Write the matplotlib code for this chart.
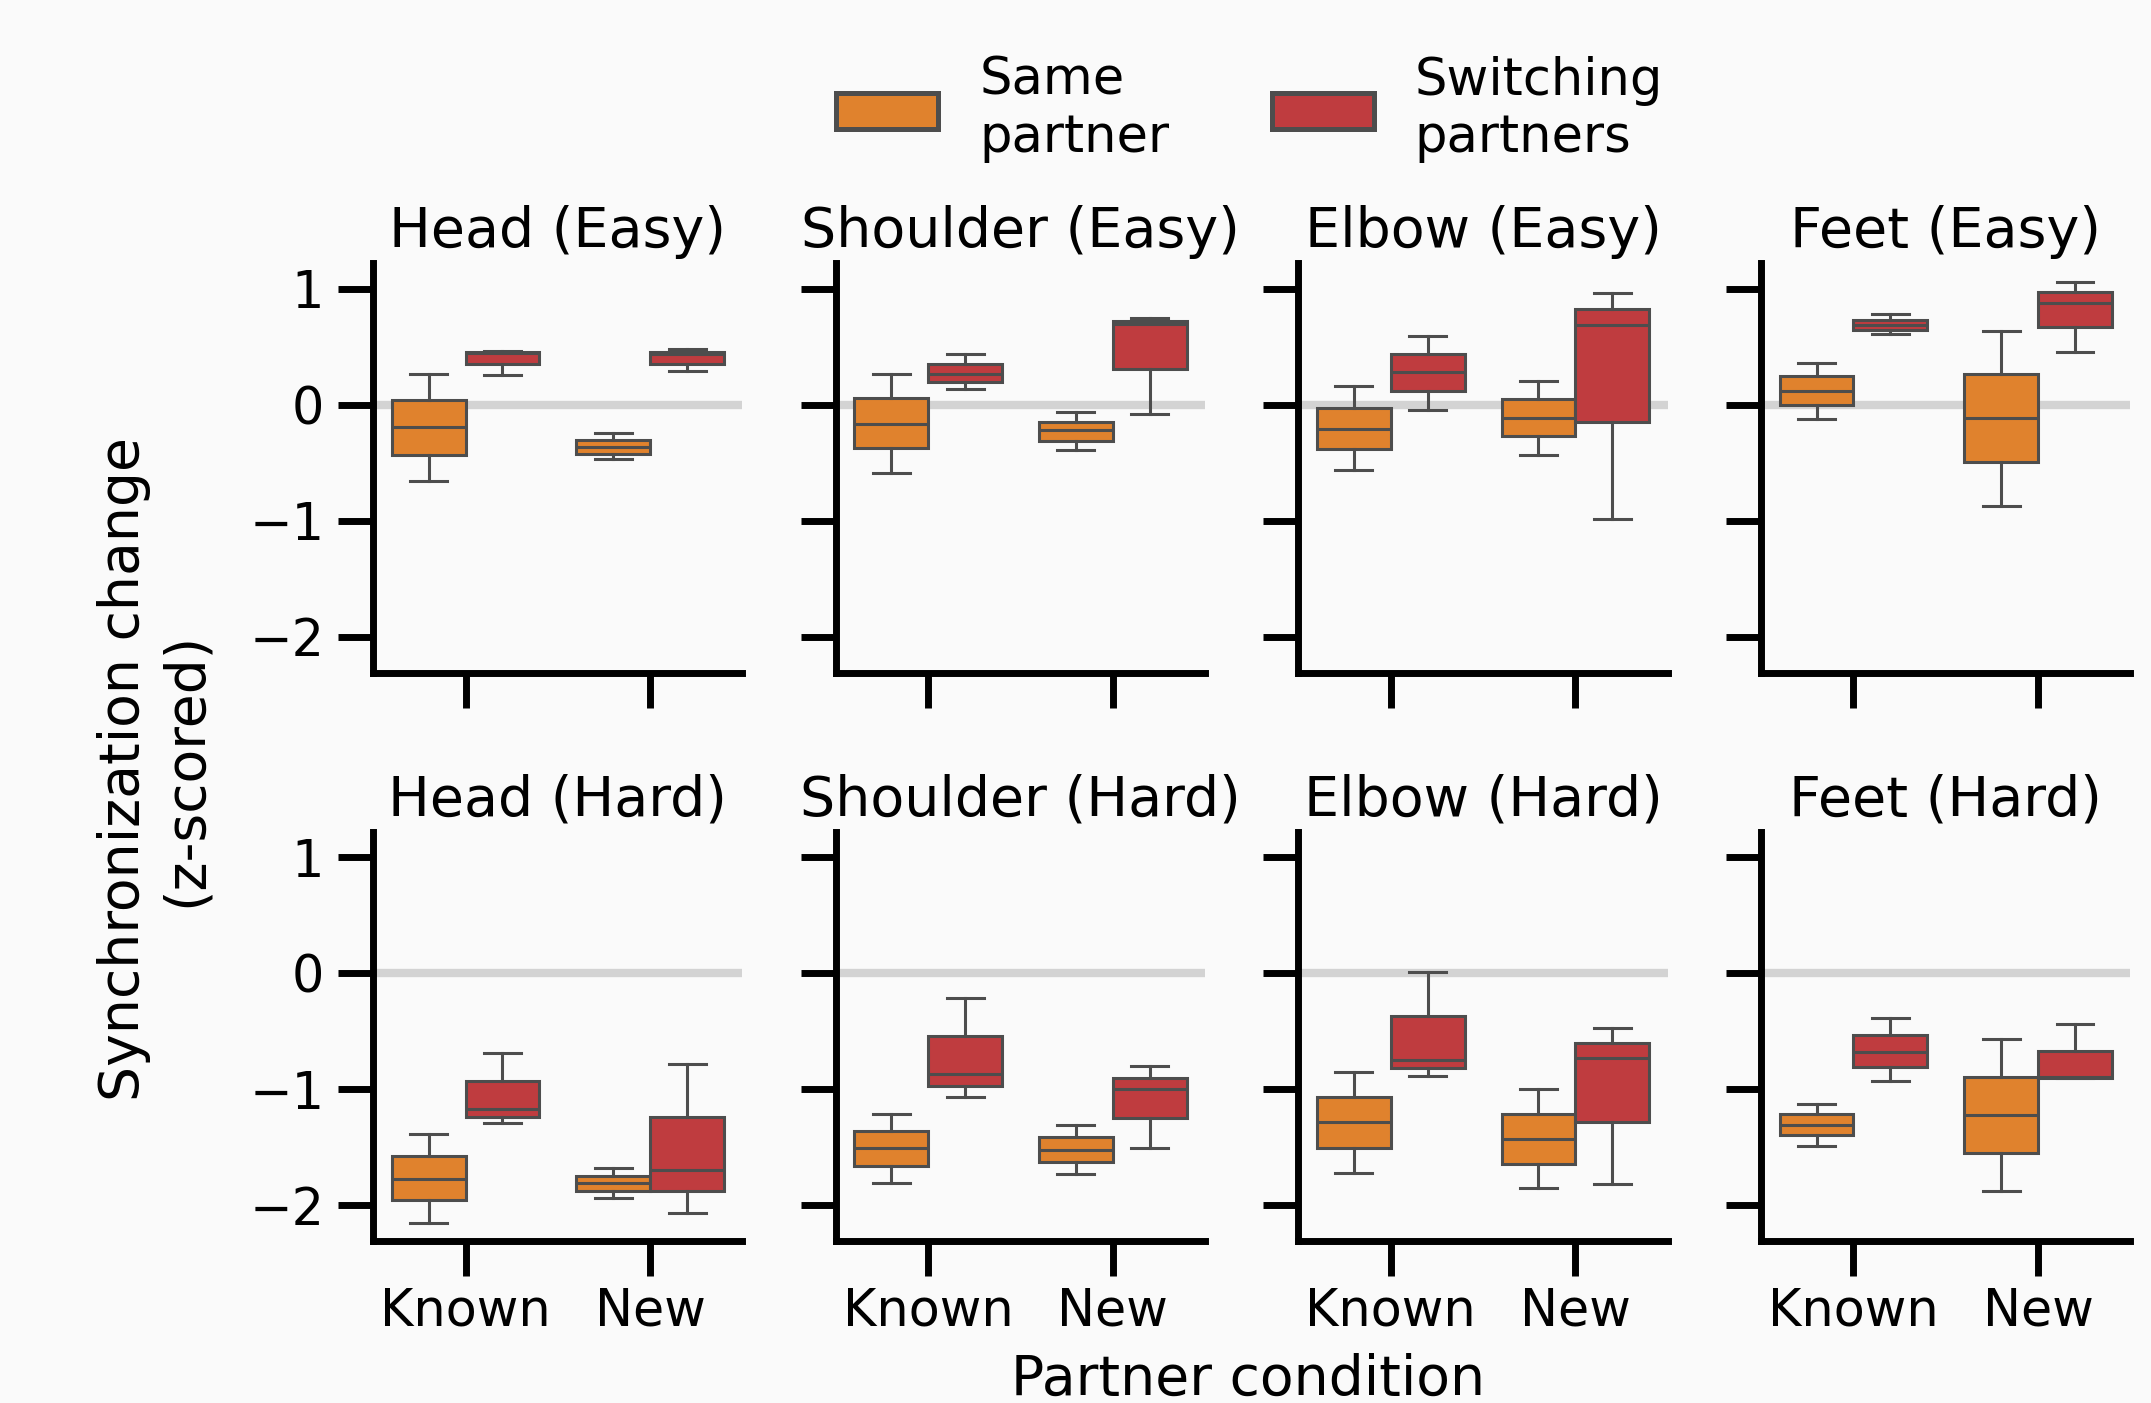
import matplotlib
matplotlib.use("Agg")
import matplotlib.pyplot as plt
from matplotlib.patches import Patch

# box stats per box: [whisker low, q1, median, q3, whisker high]
# box order in each panel: Known/Same, Known/Switching, New/Same, New/Switching
head_easy = [[-0.66, -0.43, -0.195, 0.04, 0.27],
             [0.26, 0.35, 0.45, 0.46, 0.465],
             [-0.47, -0.42, -0.36, -0.30, -0.245],
             [0.29, 0.355, 0.44, 0.46, 0.478]]
shoulder_easy = [[-0.59, -0.375, -0.165, 0.055, 0.265],
                 [0.135, 0.195, 0.265, 0.35, 0.44],
                 [-0.39, -0.31, -0.22, -0.145, -0.065],
                 [-0.08, 0.305, 0.695, 0.72, 0.745]]
elbow_easy = [[-0.565, -0.38, -0.205, -0.025, 0.16],
              [-0.045, 0.12, 0.285, 0.44, 0.59],
              [-0.43, -0.27, -0.11, 0.05, 0.21],
              [-0.985, -0.145, 0.69, 0.83, 0.965]]
feet_easy = [[-0.125, -0.005, 0.12, 0.245, 0.36],
             [0.615, 0.645, 0.69, 0.735, 0.78],
             [-0.87, -0.49, -0.11, 0.265, 0.64],
             [0.455, 0.67, 0.875, 0.97, 1.06]]
head_hard = [[-2.15, -1.955, -1.77, -1.575, -1.385],
             [-1.295, -1.235, -1.17, -0.93, -0.69],
             [-1.94, -1.88, -1.81, -1.745, -1.68],
             [-2.065, -1.88, -1.695, -1.24, -0.78]]
shoulder_hard = [[-1.805, -1.66, -1.51, -1.36, -1.215],
                 [-1.07, -0.975, -0.87, -0.54, -0.215],
                 [-1.73, -1.625, -1.52, -1.415, -1.305],
                 [-1.505, -1.25, -0.995, -0.9, -0.8]]
elbow_hard = [[-1.72, -1.505, -1.285, -1.065, -0.85],
              [-0.885, -0.82, -0.75, -0.37, 0.01],
              [-1.855, -1.64, -1.43, -1.21, -0.995],
              [-1.82, -1.28, -0.73, -0.6, -0.475]]
feet_hard = [[-1.485, -1.395, -1.305, -1.21, -1.125],
             [-0.93, -0.81, -0.68, -0.535, -0.385],
             [-1.875, -1.55, -1.22, -0.895, -0.565],
             [-0.905, -0.9, -0.895, -0.67, -0.44]]

titles = ["Head (Easy)", "Shoulder (Easy)", "Elbow (Easy)", "Feet (Easy)",
          "Head (Hard)", "Shoulder (Hard)", "Elbow (Hard)", "Feet (Hard)"]
panels = [head_easy, shoulder_easy, elbow_easy, feet_easy,
          head_hard, shoulder_hard, elbow_hard, feet_hard]
conditions = ["Known", "New"]
groups = ["Same\npartner", "Switching\npartners"]
colors = ["#e0822d", "#bf3c3f"]
line_col = "#4d4d4d"
bg = "#fafafa"

plt.rcParams['font.family'] = 'DejaVu Sans'
fig, axes = plt.subplots(2, 4, figsize=(10.755, 7.015), dpi=200, sharey=True, sharex=True)
fig.patch.set_facecolor(bg)
fig.subplots_adjust(left=0.1735, right=0.9904, bottom=0.1153, top=0.8123,
                    wspace=0.253, hspace=0.388)

for i, ax in enumerate(axes.flat):
    ax.set_facecolor(bg)
    ax.axhline(0, color="#d3d3d3", lw=3, zorder=0)
    data = panels[i]
    for j, st in enumerate(data):
        ci = j // 2
        g = j % 2
        pos = ci + (-0.2 if g == 0 else 0.2)
        stats = [dict(whislo=st[0], q1=st[1], med=st[2], q3=st[3], whishi=st[4])]
        ax.bxp(stats, positions=[pos], widths=0.4, patch_artist=True,
               showfliers=False, manage_ticks=False,
               boxprops=dict(facecolor=colors[g], edgecolor=line_col, linewidth=1.1),
               whiskerprops=dict(color=line_col, linewidth=1.1),
               capprops=dict(color=line_col, linewidth=1.1),
               medianprops=dict(color=line_col, linewidth=1.1))
    ax.set_title(titles[i], fontsize=20)
    ax.set_xlim(-0.5, 1.5)
    ax.set_xticks([0, 1])
    ax.set_xticklabels(conditions)
    ax.set_yticks([-2, -1, 0, 1])
    ax.spines['top'].set_visible(False)
    ax.spines['right'].set_visible(False)
    for s in ['left', 'bottom']:
        ax.spines[s].set_linewidth(2.5)
    ax.tick_params(axis='both', length=12.6, width=2.5, labelsize=18.3)
    ax.tick_params(axis='y', pad=5)
    ax.tick_params(axis='x', pad=3.8)

axes[0, 0].set_ylim(-2.31, 1.22)

fig.text(0.072, 0.4516, "Synchronization change\n(z-scored)", rotation=90,
         ha='center', va='center', multialignment='center', fontsize=19.9)
fig.text(0.580, 0.0057, "Partner condition", ha='center', va='baseline', fontsize=19.9)

handles = [Patch(facecolor=colors[k], edgecolor=line_col, linewidth=1.8) for k in range(2)]
fig.legend(handles, groups, loc='center', bbox_to_anchor=(0.581, 0.922), ncol=2,
           frameon=False, fontsize=18.4)

fig.savefig("out.png", dpi=200, facecolor=bg)
